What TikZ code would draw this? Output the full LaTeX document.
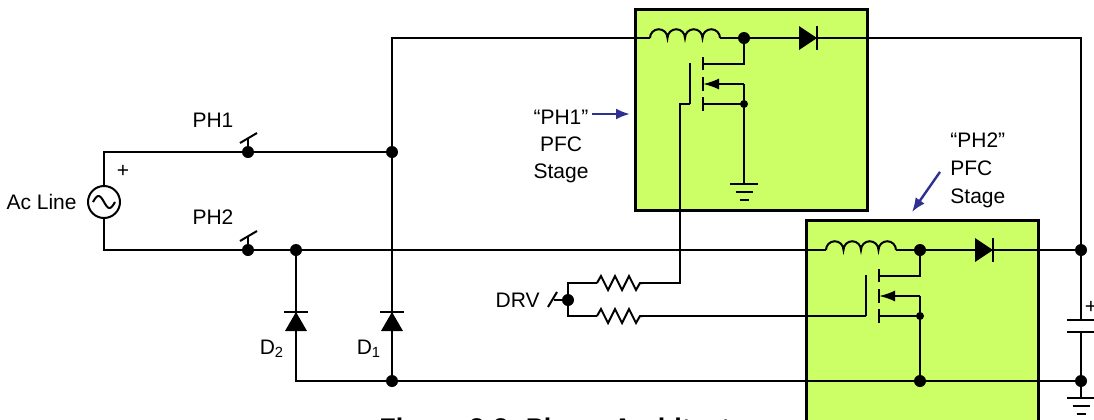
\documentclass[tikz,border=0pt]{standalone}
\usepackage{fontspec}
\setmainfont{Liberation Sans}
\usetikzlibrary{arrows.meta,positioning,calc}
\definecolor{pfcgreen}{HTML}{CCFF66}
\definecolor{pointblue}{HTML}{2E3192}
\tikzstyle{every node}=[font=\fontsize{10.5}{13.5}\selectfont]
\tikzstyle{wire} = [line width=1pt]
\tikzstyle{junction} = [circle,fill=black,inner sep=0pt,minimum size=6pt]
\tikzstyle{tap} = [circle,fill=black,inner sep=0pt,minimum size=4pt]
\tikzstyle{stagebox} = [draw=black,fill=pfcgreen,line width=1.6pt,inner sep=0pt]
\tikzstyle{pointer} = [draw=pointblue,line width=1.2pt,-{Latex[length=7pt,width=5.5pt]}]
\tikzstyle{tag} = [inner sep=0pt,align=center]

\begin{document}
\begin{tikzpicture}[x=0.5pt,y=-0.5pt]
\useasboundingbox (0,0) rectangle (1094,419);
\clip (0,0) rectangle (1094,419);

% the two PFC stages
\node (ph1box) [stagebox, anchor=north west, minimum width=116pt, minimum height=100.5pt] at (634,8) {};
\node (caption) [tag, anchor=base west, font=\bfseries\fontsize{13.5}{16}\selectfont] at (379,437) {Figure 3-3. Phase Architecture};
\node (ph2box) [stagebox, anchor=north west, minimum width=116pt, minimum height=130pt] at (805,219) {};

\foreach \s/\px/\py in {1/744/38,2/920/250}{
\begin{scope}[shift={(\px,\py)}]
\coordinate (q\s) at (0,0);
\coordinate (li\s) at (-94,0);
\coordinate (lo\s) at (-24,0);
\coordinate (da\s) at (55,0);
\coordinate (dk\s) at (73,0);
\coordinate (s\s) at (0,66);
\coordinate (g\s) at (-54,66);
% inductor
\draw[wire] (li\s) \foreach \k in {1,...,4}{arc[start angle=180,end angle=0,radius=4.375pt]};
\draw[wire] (lo\s) -- (q\s) -- (da\s);
% boost diode
\fill (da\s) -- ++(0,-12) -- ++(18,12) -- ++(-18,12) -- cycle;
\draw[wire] ($(dk\s)+(0,-12)$) -- ($(dk\s)+(0,12)$);
% mosfet
\draw[wire] (q\s) -- (0,26) -- (-41,26);
\foreach \a/\b in {19/32,39/53,59/73} \draw[wire] (-41,\a) -- (-41,\b);
\draw[wire] (g\s) -- (-54,25);
\draw[wire] (-41,66) -- (s\s) -- (0,46);
\draw[wire,-{Latex[length=8pt,width=5.5pt]}] (0,46) -- (-41,46);
\end{scope}
}

% ac line and phase switches
\node (ac) [circle,draw,line width=1pt,minimum size=16pt,inner sep=0pt] at (104,202) {};
\begin{scope}[shift={(ac.center)}]
\draw[wire] plot[domain=-11:11,samples=40,smooth] (\x,{6*sin(\x*16.4)});
\end{scope}
\node (aclbl) [tag, left=5pt of ac] {Ac Line};
\node (acplus) [tag] at (123,171) {+};

\coordinate (acp) at (104,152);
\coordinate (acn) at (104,250);
\coordinate (sw1) at (248,152);
\coordinate (sw2) at (248,250);
\coordinate (b1) at (392,152);
\coordinate (tl) at (392,38);
\coordinate (tr) at (1081,38);
\coordinate (d2top) at (296,250);
\coordinate (d2bot) at (296,381);
\coordinate (d1bot) at (392,381);
\coordinate (m2) at (920,381);
\coordinate (cp) at (1081,250);
\coordinate (cn) at (1081,381);
\coordinate (ct) at (1081,320);
\coordinate (cb) at (1081,332);
\coordinate (gnd1) at (744,184);
\coordinate (gnd2) at (1081,398);
\coordinate (drv) at (568,300);
\coordinate (r1a) at (597,283);
\coordinate (r1b) at (643,283);
\coordinate (r2a) at (597,316);
\coordinate (r2b) at (643,316);

\node (ph1lbl) [tag] at (213,120) {PH1};
\node (ph2lbl) [tag] at (213,217) {PH2};

\draw[wire] (ac.north) -- (acp) -- (sw1) -- (b1);
\draw[wire] (ac.south) -- (acn) -- (sw2) -- (d2top) -- (li2);
\foreach \w in {sw1,sw2}{
  \draw[wire] (\w) -- ++(0,-14);
  \draw[wire] ($(\w)+(-8,-9)$) -- ($(\w)+(9,-19)$);
}

% bridge diodes
\draw[wire] (d1bot) -- (b1) -- (tl) -- (li1);
\draw[wire] (d2top) -- (d2bot) -- (cn);
\foreach \x in {296,392}{
  \fill (\x,312) -- ++(-11,19) -- ++(22,0) -- cycle;
  \draw[wire] (\x-12,312) -- (\x+12,312);
}
\node (d2lbl) [tag] at (272,349) {D\textsubscript{2}};
\node (d1lbl) [tag] at (369,349) {D\textsubscript{1}};

% outputs
\draw[wire] (dk1) -- (tr) -- (cp) -- (ct);
\draw[wire] (dk2) -- (cp);
\draw[wire] ($(ct)+(-14,0)$) -- ($(ct)+(16,0)$);
\draw[wire] ($(cb)+(-14,0)$) -- ($(cb)+(16,0)$);
\draw[wire] (cb) -- (cn) -- (gnd2);
\node (cplus) [tag] at (1091,307) {+};
\draw[wire] (s1) -- (gnd1);
\draw[wire] (s2) -- (m2);
\foreach \g in {gnd1,gnd2}
  \foreach \w/\d in {14/0,8.5/8,4.5/16}
    \draw[wire] ($(\g)+(-\w,\d)$) -- ($(\g)+(\w,\d)$);

% gate drive
\draw[wire] (g1) -- ($(g1)+(-10,0)$) |- (r1b);
\draw[wire] (g2) -- (r2b);
\foreach \r in {r1,r2}
  \draw[wire] (\r a) -- ++(4,-7) -- ++(7,14) -- ++(7,-14) -- ++(7,14) -- ++(7,-14) -- ++(7,14) -- ++(4,-7) -- (\r b);
\draw[wire] (r1a) -| (drv) |- (r2a);
\draw[wire] (drv) -- ++(-14,0);
\draw[wire] ($(drv)+(-20,7)$) -- ($(drv)+(-11,-8)$);
\node (drvlbl) [tag, left=14pt of drv] {DRV};

% junction dots
\foreach \c in {b1,sw1,sw2,d2top,d1bot,m2,cp,cn,q1,q2,drv}
  \node[junction] at (\c) {};
\foreach \c in {s1,s2}
  \node[tap] at (\c) {};

% stage tags
\node (ph1tag) [tag, anchor=north] at (561,110) {“PH1”\\PFC\\Stage};
\coordinate (ph1arr) at ($(ph1tag.north east)+(3,4)$);
\draw[pointer, shorten >=2pt] (ph1arr) -- (ph1arr -| ph1box.west);
\node (ph2tag) [tag, align=left, anchor=north west, font=\fontsize{10.5}{14}\selectfont] at (950,132) {“PH2”\\PFC\\Stage};
\draw[pointer] ($(ph2tag.west)+(-10,2)$) -- ($(ph2box.north west)+(107,-7)$);

\end{tikzpicture}
\end{document}
